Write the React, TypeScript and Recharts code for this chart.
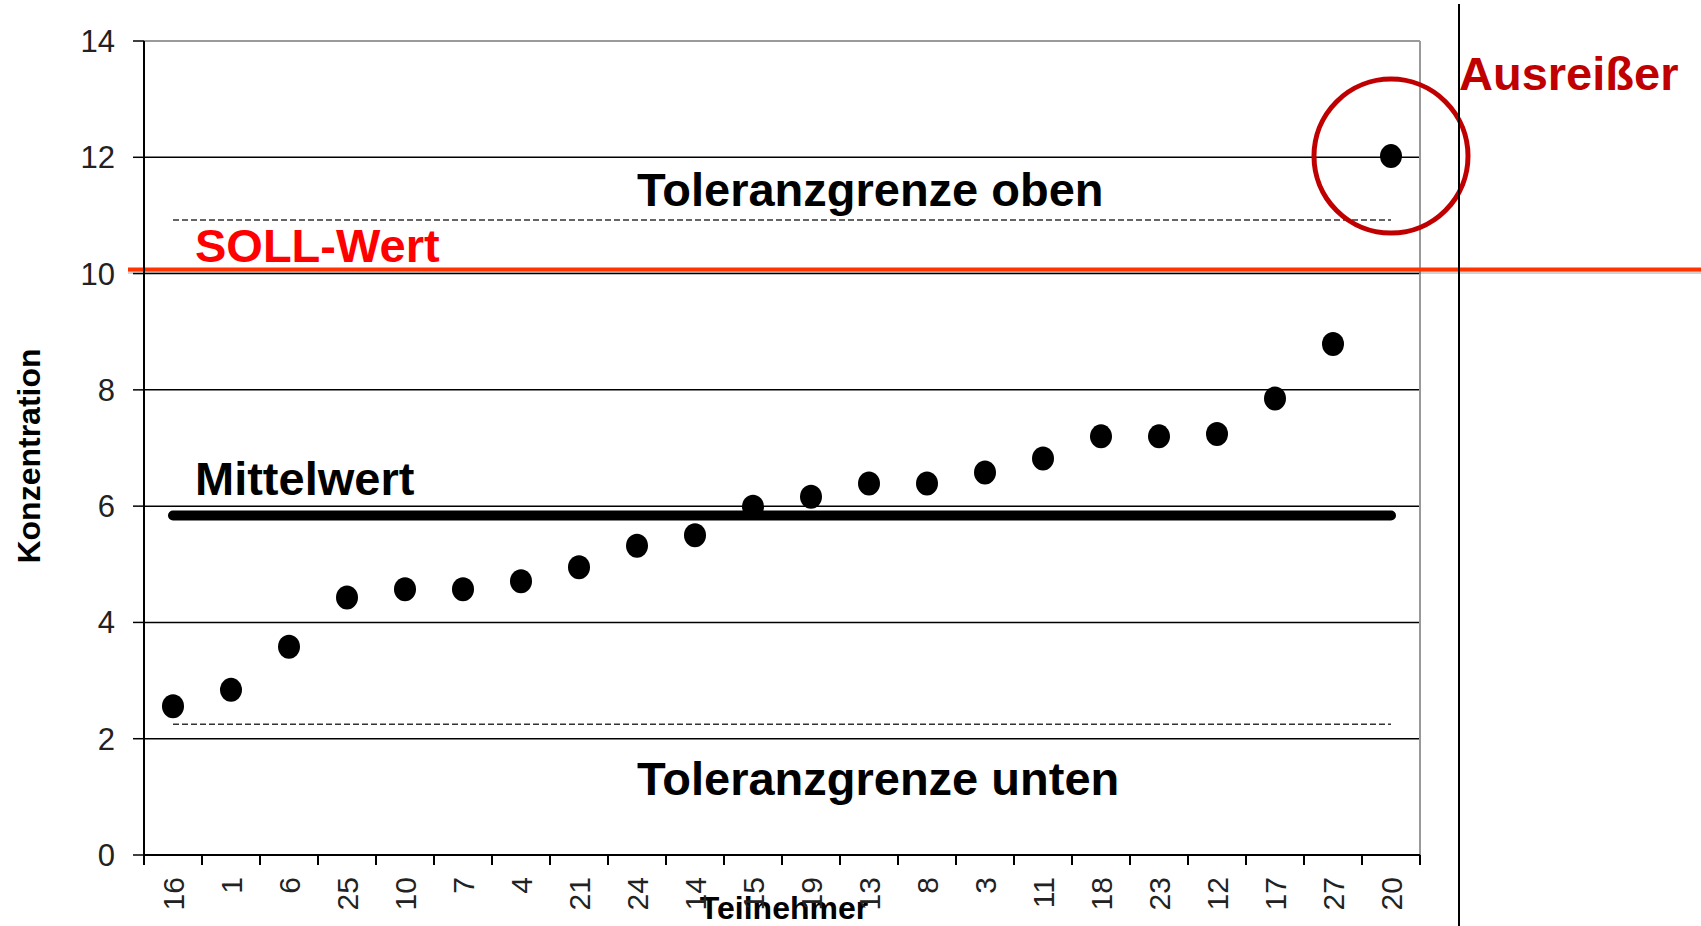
import React from 'react';
import {
  ComposedChart,
  Scatter,
  XAxis,
  YAxis,
  CartesianGrid,
  ReferenceLine,
  ReferenceDot,
} from 'recharts';

// ---- data ----
const participants = ['16', '1', '6', '25', '10', '7', '4', '21', '24', '14', '15', '19', '13', '8', '3', '11', '18', '23', '12', '17', '27', '20'];
const concentration = [2.56, 2.84, 3.58, 4.43, 4.57, 4.57, 4.71, 4.95, 5.32, 5.5, 5.99, 6.16, 6.39, 6.39, 6.58, 6.82, 7.2, 7.2, 7.24, 7.85, 8.79, 12.02];
const yTicks = [0, 2, 4, 6, 8, 10, 12, 14];
const gridValues = [2, 4, 6, 8, 10, 12];
const sollWert = 10.07;
const mittelwert = 5.84;
const toleranzOben = 10.92;
const toleranzUnten = 2.25;
const outlierId = '20';
const outlierValue = 12.02;

const data = participants.map((id, i) => ({ id, value: concentration[i] }));

const FONT = "'Liberation Sans', Arial, Helvetica, sans-serif";
const X_TICK_SIZE = 10;
const X_TICK_MARGIN = 12;
const W = 1701;
const H = 926;

const XTick = (props: any) => {
  const { x, y, payload } = props;
  const off = payload && typeof payload.offset === 'number' && payload.offset > 0 ? payload.offset : 29;
  const axisY = y - X_TICK_SIZE - X_TICK_MARGIN;
  const isLast = payload.value === participants[participants.length - 1];
  return (
    <g>
      <line x1={x - off} y1={axisY} x2={x - off} y2={axisY + X_TICK_SIZE} stroke="#000" strokeWidth={2} />
      {isLast && (
        <line x1={x + off} y1={axisY} x2={x + off} y2={axisY + X_TICK_SIZE} stroke="#000" strokeWidth={2} />
      )}
      <text
        x={x}
        y={y}
        transform={`rotate(-90 ${x} ${y})`}
        textAnchor="end"
        dominantBaseline="central"
        fontSize={30}
        fontFamily={FONT}
        fill="#222"
      >
        {payload.value}
      </text>
    </g>
  );
};

const bigText = (text: string, dx: number, dy: number, color: string) => (p: any) => {
  const vb = p.viewBox || { x: 0, y: 0 };
  return (
    <text x={vb.x + dx} y={vb.y + dy} fontSize={47} fontWeight="bold" fontFamily={FONT} fill={color}>
      {text}
    </text>
  );
};

const Dot = (p: any) => <ellipse cx={p.cx} cy={p.cy} rx={11} ry={12} fill="#000" />;

export default function App() {
  return (
    <div style={{ position: 'absolute', left: 0, top: 0, width: W, height: H, background: '#fff', overflow: 'hidden' }}>
      <ComposedChart width={W} height={H} data={data} margin={{ top: 41, right: 281, bottom: 0, left: 0 }}>
        <CartesianGrid vertical={false} horizontalValues={gridValues} stroke="#000" strokeWidth={1.5} />
        <CartesianGrid
          horizontalCoordinatesGenerator={({ offset }: any) => [offset.top]}
          verticalCoordinatesGenerator={({ offset }: any) => [offset.left + offset.width]}
          stroke="#9a9a9a"
          strokeWidth={2}
        />
        <XAxis
          dataKey="id"
          type="category"
          scale="band"
          interval={0}
          height={71}
          tickSize={X_TICK_SIZE}
          tickMargin={X_TICK_MARGIN}
          tickLine={false}
          axisLine={{ stroke: '#000', strokeWidth: 2 }}
          tick={<XTick />}
          label={(p: any) => {
            const vb = p.viewBox;
            return (
              <text
                x={vb.x + vb.width / 2 + 2}
                y={vb.y + vb.height - 7}
                textAnchor="middle"
                fontSize={32}
                fontWeight="bold"
                fontFamily={FONT}
                fill="#000"
              >
                Teilnehmer
              </text>
            );
          }}
        />
        <YAxis
          type="number"
          domain={[0, 14]}
          ticks={yTicks}
          interval={0}
          width={144}
          tickSize={11}
          tickMargin={18}
          axisLine={{ stroke: '#000', strokeWidth: 2 }}
          tickLine={{ stroke: '#000', strokeWidth: 1.5 }}
          tick={{ fontSize: 31, fill: '#222', fontFamily: FONT }}
          label={(p: any) => {
            const vb = p.viewBox;
            const cx = vb.x + 29;
            const cy = vb.y + vb.height / 2 + 8;
            return (
              <text
                x={cx}
                y={cy}
                transform={`rotate(-90 ${cx} ${cy})`}
                textAnchor="middle"
                dominantBaseline="central"
                fontSize={32}
                fontWeight="bold"
                fontFamily={FONT}
                fill="#000"
              >
                Konzentration
              </text>
            );
          }}
        />
        <ReferenceLine
          segment={[
            { x: participants[0], y: toleranzOben },
            { x: participants[participants.length - 1], y: toleranzOben },
          ]}
          stroke="#333"
          strokeWidth={1.5}
          strokeDasharray="6 3"
          label={bigText('Toleranzgrenze oben', 464, -14, '#000')}
        />
        <ReferenceLine
          segment={[
            { x: participants[0], y: toleranzUnten },
            { x: participants[participants.length - 1], y: toleranzUnten },
          ]}
          stroke="#333"
          strokeWidth={1.5}
          strokeDasharray="6 3"
          label={bigText('Toleranzgrenze unten', 464, 71, '#000')}
        />
        <ReferenceLine
          segment={[
            { x: participants[0], y: mittelwert },
            { x: participants[participants.length - 1], y: mittelwert },
          ]}
          stroke="#000"
          strokeWidth={10}
          strokeLinecap="round"
          label={bigText('Mittelwert', 22, -20, '#000')}
        />
        <Scatter dataKey="value" isAnimationActive={false} shape={<Dot />} />
        <ReferenceLine
          y={sollWert}
          ifOverflow="visible"
          shape={(p: any) => (
            <g>
              <line x1={p.x1 - 16} y1={p.y1 + 3} x2={W} y2={p.y2 + 3} stroke="rgba(0,0,0,0.18)" strokeWidth={3} />
              <line x1={p.x1 - 16} y1={p.y1} x2={W} y2={p.y2} stroke="#ff3300" strokeWidth={4} />
            </g>
          )}
          label={bigText('SOLL-Wert', 51, -8, '#ff0000')}
        />
        <ReferenceDot
          x={outlierId}
          y={outlierValue}
          r={77}
          fill="none"
          stroke="#c00000"
          strokeWidth={5}
          ifOverflow="visible"
          label={bigText('Ausreißer', 145, 11, '#c00000')}
        />
      </ComposedChart>
      <div style={{ position: 'absolute', left: 1458, top: 4, width: 2, height: H - 4, background: '#000' }} />
    </div>
  );
}
